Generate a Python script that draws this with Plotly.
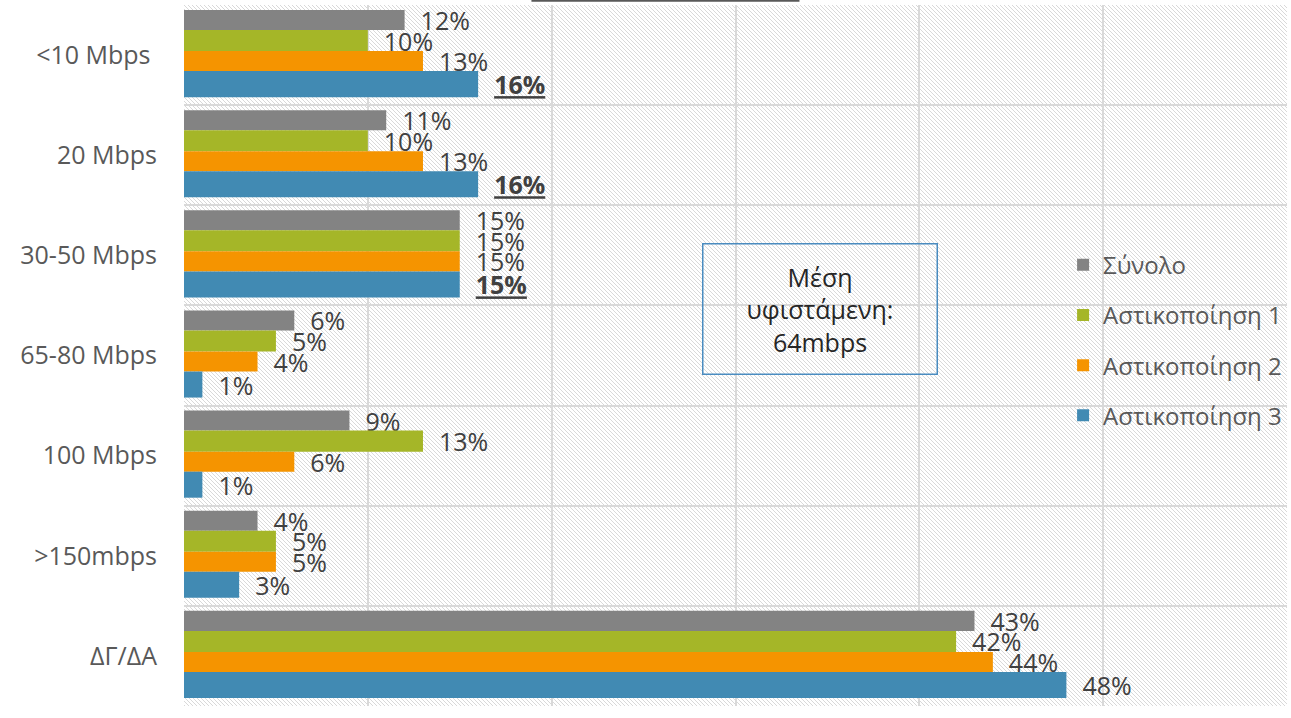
import base64
import plotly.graph_objects as go

categories = ["<10 Mbps ", "20 Mbps", "30-50 Mbps", "65-80 Mbps", "100 Mbps", ">150mbps", "ΔΓ/ΔΑ"]
series_names = ["Σύνολο", "Αστικοποίηση 1", "Αστικοποίηση 2", "Αστικοποίηση 3"]
synolo = [12, 11, 15, 6, 9, 4, 43]
ast1 = [10, 10, 15, 5, 13, 5, 42]
ast2 = [13, 13, 15, 4, 6, 5, 44]
ast3 = [16, 16, 15, 1, 1, 3, 48]
highlight_ast3 = [True, True, True, False, False, False, False]
x_ticks = [0, 10, 20, 30, 40, 50, 60]

series_values = [synolo, ast1, ast2, ast3]
colors = ["#838383", "#a5b628", "#f59400", "#418ab3"]
offsets = [0.25, 0.04, -0.16, -0.42]
widths = [0.20, 0.21, 0.20, 0.26]

FONT = "Open Sans"
fig = go.Figure()
for i, (name, vals) in enumerate(zip(series_names, series_values)):
    texts = []
    for j, v in enumerate(vals):
        t = f"{v}%"
        if i == 3 and highlight_ast3[j]:
            t = f"<b><u>{t}</u></b>"
        texts.append("\u00a0\u00a0" + t)
    fig.add_trace(go.Bar(
        x=vals, y=categories, orientation="h", name=name,
        marker=dict(color=colors[i], line=dict(width=0)),
        offset=[offsets[i]] * len(vals), width=[widths[i]] * len(vals),
        text=texts, textposition="outside", constraintext="none",
        textfont=dict(size=25, color="#404040", family=FONT),
        cliponaxis=False, legendgroup=name,
    ))

svg = ("<svg xmlns='http://www.w3.org/2000/svg' width='1103' height='701'>"
       "<defs><pattern id='p' width='4' height='4' patternUnits='userSpaceOnUse'>"
       "<path d='M-1,-1 L5,5 M-1,3 L1,5 M3,-1 L5,1' stroke='#d9d9d9' stroke-width='1'/>"
       "</pattern></defs><rect width='100%' height='100%' fill='white'/>"
       "<rect width='100%' height='100%' fill='url(#p)'/></svg>")
uri = "data:image/svg+xml;base64," + base64.b64encode(svg.encode()).decode()

fig.update_layout(
    width=1291, height=718,
    margin=dict(l=184, r=4, t=5, b=12, autoexpand=False),
    barmode="overlay",
    paper_bgcolor="white", plot_bgcolor="rgba(0,0,0,0)",
    font=dict(family=FONT, size=25, color="#595959"),
    showlegend=True,
    legend=dict(x=0.797, y=0.661, xanchor="left", yanchor="top",
                bgcolor="rgba(0,0,0,0)", traceorder="grouped", tracegroupgap=16,
                font=dict(size=24, color="#595959", family=FONT)),
    xaxis=dict(range=[0, 60], tickvals=x_ticks, showticklabels=False, showgrid=True,
               gridcolor="#d9d9d9", gridwidth=2, zeroline=False, ticks=""),
    yaxis=dict(categoryorder="array", categoryarray=list(reversed(categories)),
               tickson="boundaries", showgrid=True, gridcolor="#d9d9d9", gridwidth=2,
               ticks="", ticklabelstandoff=26, tickfont=dict(size=25, color="#595959", family=FONT)),
    images=[dict(source=uri, xref="paper", yref="paper", x=0, y=1, sizex=1, sizey=1,
                 xanchor="left", yanchor="top", sizing="stretch", layer="below")],
    annotations=[dict(text="Μέση<br>υφιστάμενη:<br>64mbps", xref="paper", yref="paper",
                      x=0.577, y=0.566, xanchor="center", yanchor="middle", showarrow=False,
                      width=231, height=127, bordercolor="#4a8cc0", borderwidth=1.5,
                      bgcolor="rgba(0,0,0,0)", font=dict(size=25, color="#262626", family=FONT))],
    shapes=[dict(type="line", xref="paper", yref="paper", x0=0.315, x1=0.558,
                 y0=1.006, y1=1.006, line=dict(color="#595959", width=2))],
)

fig.write_html("out.html", config={"displayModeBar": False},
               post_script="document.body.style.margin='0';document.body.style.overflow='hidden';")
